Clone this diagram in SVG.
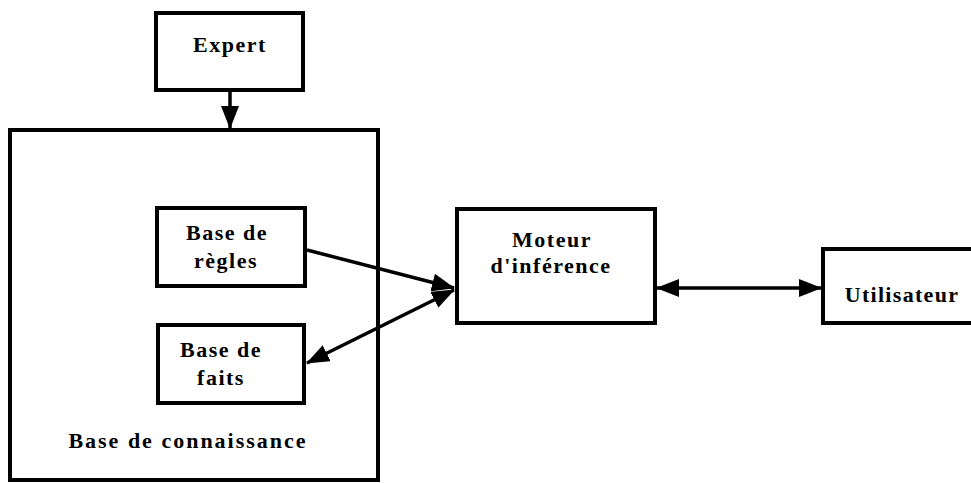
<svg xmlns="http://www.w3.org/2000/svg" width="971" height="483" viewBox="0 0 971 483">
  <style>
    .box { fill: #ffffff; stroke: #000000; stroke-width: 4; }
    .frame { fill: none; stroke: #000000; stroke-width: 4; }
    .link { fill: none; stroke: #000000; stroke-width: 3.5; }
    text { font-family: 'Liberation Serif', 'Times New Roman', serif; font-weight: 700; font-size: 22px; fill: #000000; text-anchor: middle; }
  </style>
  <defs>
    <marker id="head" markerUnits="userSpaceOnUse" markerWidth="24" markerHeight="18" refX="22" refY="9" orient="auto-start-reverse">
      <path d="M0,0 L23,9 L0,18 Z" fill="#000000"/>
    </marker>
  </defs>
  <rect width="971" height="483" fill="#ffffff"/>

  <g id="base-connaissance">
    <rect class="frame" x="10" y="130" width="368" height="350"/>
    <text x="188" y="448" letter-spacing="2">Base de connaissance</text>
  </g>

  <g id="expert">
    <rect class="box" x="156" y="13" width="147" height="77"/>
    <text x="230" y="52" letter-spacing="1.5">Expert</text>
  </g>

  <g id="base-regles">
    <rect class="box" x="157" y="208" width="148" height="78"/>
    <text x="227" y="240" letter-spacing="1.5">Base de</text>
    <text x="226" y="268" letter-spacing="1.5">règles</text>
  </g>

  <g id="base-faits">
    <rect class="box" x="158" y="325" width="146" height="78"/>
    <text x="221" y="357" letter-spacing="1.5">Base de</text>
    <text x="221" y="385" letter-spacing="1.5">faits</text>
  </g>

  <g id="moteur">
    <rect class="box" x="457" y="209" width="198" height="114"/>
    <text x="552" y="247" letter-spacing="1.5">Moteur</text>
    <text x="551" y="273" letter-spacing="1.5">d'inférence</text>
  </g>

  <g id="utilisateur">
    <rect class="box" x="823" y="249" width="160" height="74"/>
    <text x="902" y="302" letter-spacing="1.3">Utilisateur</text>
  </g>

  <g id="connectors">
    <line class="link" x1="230" y1="92" x2="230" y2="128" marker-end="url(#head)"/>
    <line class="link" x1="307" y1="250" x2="454" y2="288" marker-end="url(#head)"/>
    <line class="link" x1="454" y1="290" x2="307" y2="363" marker-start="url(#head)" marker-end="url(#head)"/>
    <line class="link" x1="657" y1="288" x2="821" y2="288" marker-start="url(#head)" marker-end="url(#head)"/>
  </g>
</svg>
